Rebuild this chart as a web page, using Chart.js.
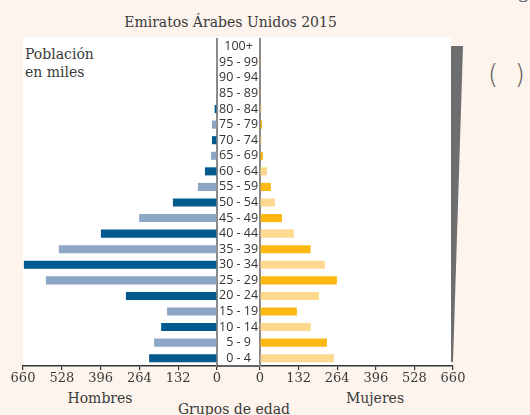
<!DOCTYPE html>
<html>
<head>
<meta charset="utf-8">
<script src="https://cdn.jsdelivr.net/npm/chart.js@4"></script>
<style>
  html, body { margin: 0; padding: 0; }
  body { width: 530px; height: 415px; background: #fcf4ed; position: relative; overflow: hidden;
         font-family: "DejaVu Serif", serif; color: #3a3a3a; }
  .panel { position: absolute; left: 23px; top: 37px; width: 428px; height: 329px; background: #fff; }
  .txt { position: absolute; font-size: 14px; line-height: 16px; white-space: nowrap; }
  canvas { position: absolute; top: 0; }
  .wedge { position: absolute; left: 451px; top: 46px; width: 13px; height: 316px; background: #6e6e70;
           clip-path: polygon(0 0, 12px 0, 2px 316px, 0 316px); }
</style>
</head>
<body>
<div class="panel"></div>
<div class="wedge"></div>
<div class="txt" style="left:0;width:461px;text-align:center;top:14px;">Emiratos Árabes Unidos 2015</div>
<div class="txt" style="left:25px;top:45px;line-height:18px;">Población<br>en miles</div>
<div class="txt" style="left:0;width:200px;text-align:center;top:390px;">Hombres</div>
<div class="txt" style="left:290px;width:170px;text-align:center;top:390px;">Mujeres</div>
<div class="txt" style="left:134px;width:200px;text-align:center;top:401px;">Grupos de edad</div>
<div class="txt" style="left:488px;top:58px;font-family:'DejaVu Sans';font-size:26px;line-height:32px;color:#555;font-weight:200;">(&nbsp;&nbsp;)</div>
<div class="txt" style="left:517px;top:-11px;color:#555;">G</div>

<canvas id="hombresChart" width="260" height="415" style="left:0;"></canvas>
<canvas id="mujeresChart" width="280" height="415" style="left:250px;"></canvas>

<script>
// grupos de edad, de menor a mayor (el eje se invierte para que 0-4 quede abajo)
const grupos = ['0 - 4', '5 - 9', '10 - 14', '15 - 19', '20 - 24', '25 - 29', '30 - 34',
                '35 - 39', '40 - 44', '45 - 49', '50 - 54', '55 - 59', '60 - 64', '65 - 69',
                '70 - 74', '75 - 79', '80 - 84', '85 - 89', '90 - 94', '95 - 99', '100+'];

// población en miles
const hombres = [231, 214, 190, 170, 310, 582, 657, 538, 395, 265, 150, 65, 41, 20, 17, 17, 8, 3, 2, 1, 0];
const mujeres = [253, 229, 174, 126, 202, 263, 222, 173, 116, 75, 51, 37, 24, 10, 5, 7, 5, 3, 2, 1, 0];

const ticksX = [0, 132, 264, 396, 528, 660];

const colHombres = ['#005a8d', '#8ea6c6'];
const colMujeres = ['#fed88e', '#fdb813'];

const fuenteNum = { family: 'DejaVu Serif', size: 13 };
const fuenteEdad = { family: 'Open Sans', size: 12.5 };

function ejeX(reverso) {
    return {
        type: 'linear',
        min: 0,
        max: 660,
        reverse: reverso,
        afterBuildTicks: s => { s.ticks = ticksX.map(v => ({ value: v })); },
        afterFit: s => { s.height = 49; },
        grid: { drawOnChartArea: false, drawTicks: true, tickLength: 4, color: '#333', lineWidth: 1.2 },
        border: { display: true, color: '#333', width: 1.5 },
        ticks: { font: fuenteNum, color: '#3a3a3a', padding: 1, maxRotation: 0, autoSkip: false }
    };
}

// une la línea del eje x por debajo de la columna de edades
const lineaCentro = {
    id: 'lineaCentro',
    afterDraw(c) {
        const ctx = c.ctx, a = c.chartArea;
        ctx.save();
        ctx.strokeStyle = '#333';
        ctx.lineWidth = 1.5;
        ctx.beginPath();
        ctx.moveTo(a.right, a.bottom);
        ctx.lineTo(c.width, a.bottom);
        ctx.stroke();
        ctx.restore();
    }
};

new Chart(document.getElementById('hombresChart'), {
    type: 'bar',
    data: {
        labels: grupos,
        datasets: [{
            label: 'Hombres',
            data: hombres,
            backgroundColor: hombres.map((v, i) => colHombres[i % 2]),
            barPercentage: 0.52,
            categoryPercentage: 1
        }]
    },
    options: {
        indexAxis: 'y',
        responsive: false,
        animation: false,
        layout: { padding: { left: 23, top: 39, right: 0, bottom: 0 } },
        plugins: { legend: { display: false }, tooltip: { enabled: false } },
        scales: {
            x: ejeX(true),
            y: {
                position: 'right',
                reverse: true,
                afterFit: s => { s.width = 43; },
                grid: { display: false, drawTicks: false },
                border: { display: true, color: '#8a8a8a', width: 2 },
                ticks: { font: fuenteEdad, color: '#333', padding: 2, crossAlign: 'center', autoSkip: false }
            }
        }
    },
    plugins: [lineaCentro]
});

new Chart(document.getElementById('mujeresChart'), {
    type: 'bar',
    data: {
        labels: grupos,
        datasets: [{
            label: 'Mujeres',
            data: mujeres,
            backgroundColor: mujeres.map((v, i) => colMujeres[i % 2]),
            barPercentage: 0.52,
            categoryPercentage: 1
        }]
    },
    options: {
        indexAxis: 'y',
        responsive: false,
        animation: false,
        layout: { padding: { left: 10, top: 39, right: 77, bottom: 0 } },
        plugins: { legend: { display: false }, tooltip: { enabled: false } },
        scales: {
            x: ejeX(false),
            y: {
                position: 'left',
                reverse: true,
                afterFit: s => { s.width = 0; },
                grid: { display: false, drawTicks: false },
                border: { display: true, color: '#8a8a8a', width: 2 },
                ticks: { display: false }
            }
        }
    }
});
</script>
</body>
</html>
